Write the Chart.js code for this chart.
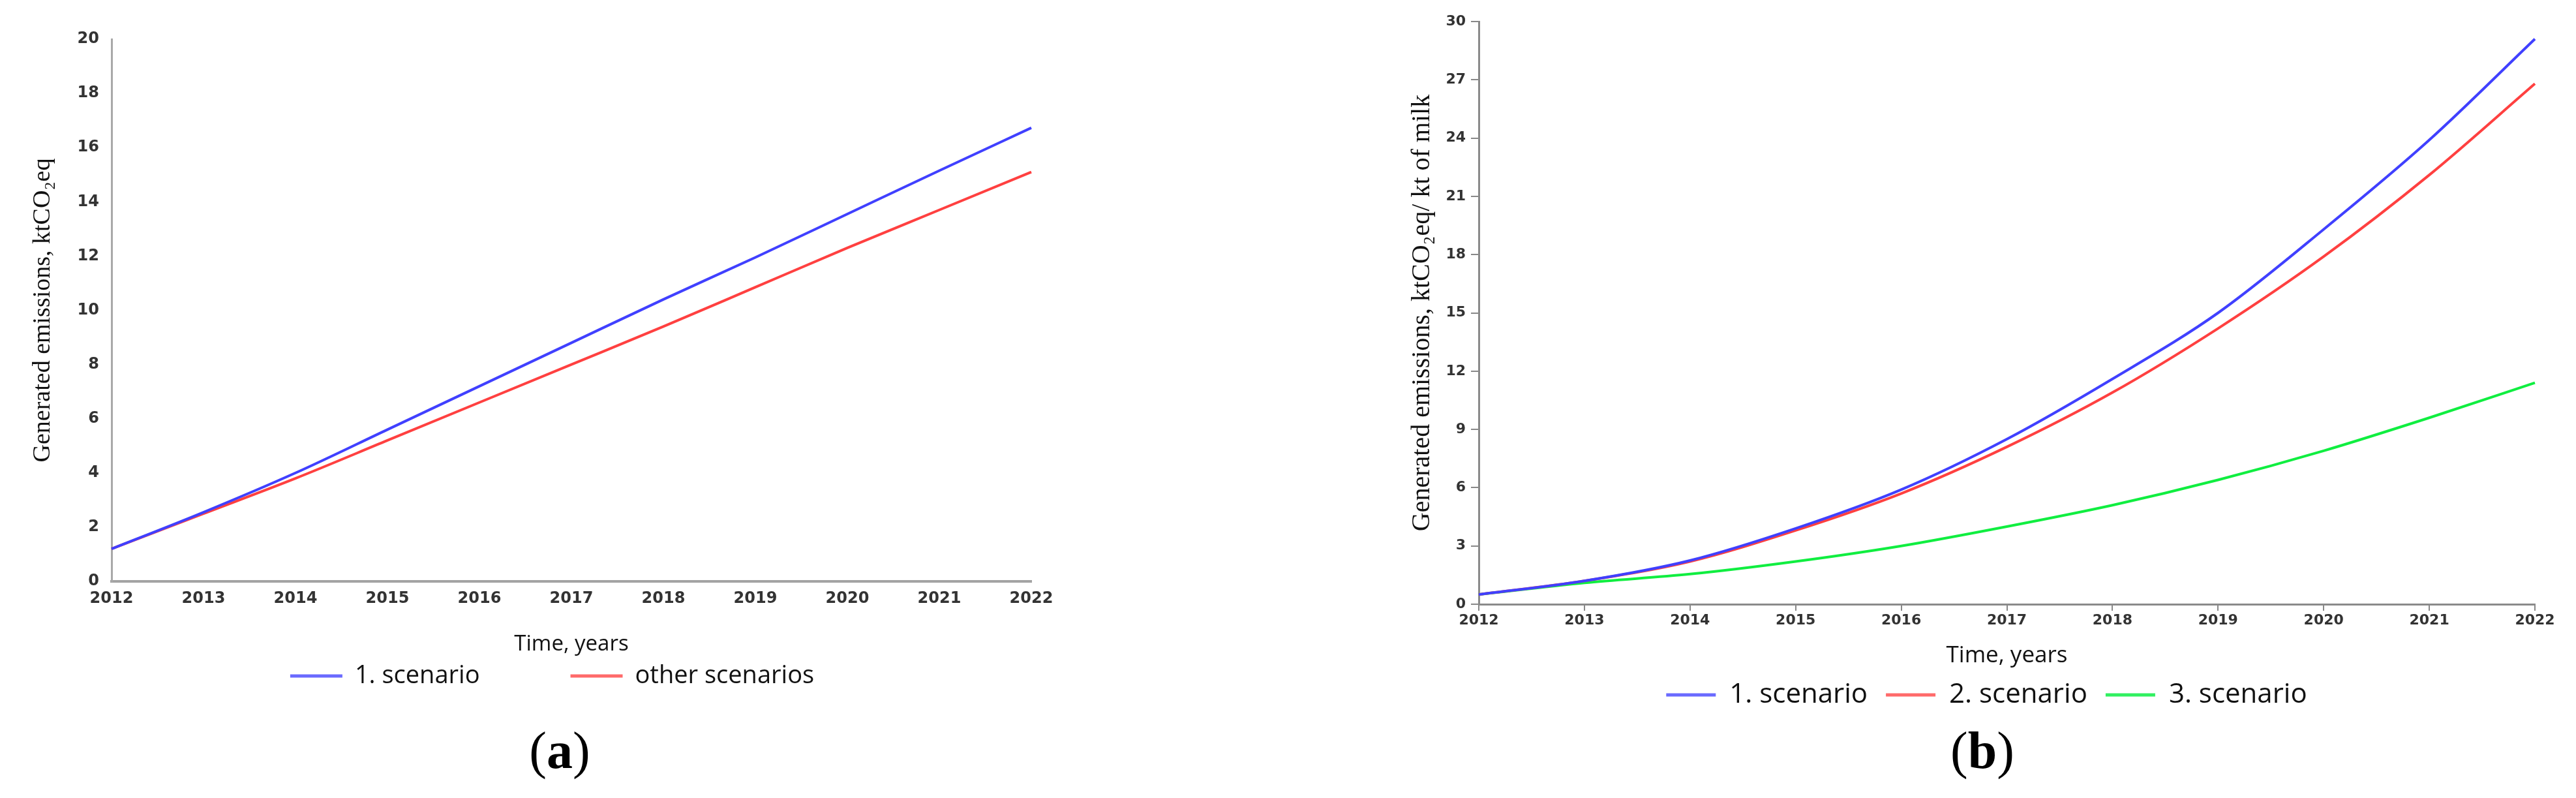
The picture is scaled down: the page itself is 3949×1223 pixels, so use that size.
<!DOCTYPE html>
<html>
<head>
<meta charset="utf-8">
<title>Generated emissions by scenario</title>
<script src="https://cdn.jsdelivr.net/npm/chart.js@4.4.1/dist/chart.umd.min.js"></script>
<style>
  html, body { margin: 0; padding: 0; background: #fff; }
  body { position: relative; width: 3949px; height: 1223px; overflow: hidden; }
  canvas { position: absolute; top: 0; }
  #chartA { left: 0; }
  #chartB { left: 2100px; }
  .caption {
    position: absolute; top: 1110px;
    font-family: "Liberation Serif", "Times New Roman", serif;
    font-size: 80px; line-height: 1; color: #000;
    transform: translateX(-50%);
  }
</style>
</head>
<body>
<canvas id="chartA" width="1700" height="1065"></canvas>
<canvas id="chartB" width="1849" height="1096"></canvas>
<div class="caption" style="left:858px">(<b>a</b>)</div>
<div class="caption" style="left:3039px">(<b>b</b>)</div>
<script>
// years on the x axis (both panels)
const years = ["2012", "2013", "2014", "2015", "2016", "2017", "2018", "2019", "2020", "2021", "2022"];

// panel (a): ktCO2eq
const scenario1A = [1.2, 2.55, 4.0, 5.6, 7.2, 8.8, 10.4, 11.95, 13.55, 15.15, 16.73];
const otherScenariosA = [1.2, 2.5, 3.8, 5.2, 6.6, 8.0, 9.4, 10.85, 12.3, 13.7, 15.1];

// panel (b): ktCO2eq / kt of milk
const scenario1B = [0.5, 1.2, 2.25, 3.9, 5.9, 8.5, 11.6, 15.0, 19.3, 23.9, 29.1];
const scenario2B = [0.5, 1.2, 2.2, 3.8, 5.7, 8.1, 10.9, 14.2, 17.9, 22.1, 26.8];
const scenario3B = [0.5, 1.1, 1.55, 2.2, 3.0, 4.0, 5.1, 6.4, 7.9, 9.6, 11.4];

// y axis ranges: min, max, step
const yRangeA = [0, 20, 2];
const yRangeB = [0, 30, 3];

const BLUE = "#4040ff", RED = "#ff4040", GREEN = "#10ee40";
const tickColor = "#333";

function legendLabels(chart) {
  // flat coloured swatch, no outline
  return Chart.defaults.plugins.legend.labels.generateLabels(chart).map(item => {
    item.lineWidth = 0;
    return item;
  });
}

// panel (a) has a wide gap between its two legend entries
function legendLabelsWide(chart) {
  const items = legendLabels(chart);
  const gap = { ...items[0], text: "", fillStyle: "rgba(0,0,0,0)", strokeStyle: "rgba(0,0,0,0)", datasetIndex: undefined };
  return [items[0], gap, ...items.slice(1)];
}

function line(label, data, color, legendColor) {
  return {
    label,
    data,
    borderColor: color,
    backgroundColor: legendColor,
    borderWidth: 4,
    pointRadius: 0,
    fill: false,
    cubicInterpolationMode: "monotone"
  };
}

new Chart(document.getElementById("chartA"), {
  type: "line",
  data: {
    labels: years,
    datasets: [
      line("1. scenario", scenario1A, BLUE, "#6a6aff"),
      line("other scenarios", otherScenariosA, RED, "#ff6a6a")
    ]
  },
  options: {
    responsive: false,
    animation: false,
    layout: { padding: { top: 60, left: 112, right: 119, bottom: 0 } },
    plugins: {
      tooltip: { enabled: false },
      legend: {
        position: "bottom",
        labels: {
          boxWidth: 80, boxHeight: 5, padding: 20, color: "#111",
          font: { family: "Open Sans", size: 38 },
          generateLabels: legendLabelsWide
        }
      }
    },
    scales: {
      x: {
        grid: { display: false, drawTicks: false },
        border: { color: "#a3a3a3", width: 4 },
        ticks: { padding: 12, font: { family: "DejaVu Sans", size: 24, weight: "bold" }, color: tickColor, maxRotation: 0, autoSkip: false },
        title: {
          display: true, text: "Time, years", color: "#111",
          font: { family: "Open Sans", size: 33 },
          padding: { top: 0, bottom: -10 }
        },
        afterFit: s => { s.height = 106; }
      },
      y: {
        min: yRangeA[0], max: yRangeA[1],
        grid: { display: false, drawTicks: false },
        border: { color: "#a8a8a8", width: 3 },
        ticks: { stepSize: yRangeA[2], padding: 19, font: { family: "DejaVu Sans", size: 24, weight: "bold" }, color: tickColor },
        title: {
          display: true, text: "Generated emissions, ktCO\u2082eq", color: "#111",
          font: { family: "Liberation Serif", size: 38 },
          padding: { top: -69, bottom: 0 }
        },
        afterFit: s => { s.width = 59; }
      }
    }
  }
});

new Chart(document.getElementById("chartB"), {
  type: "line",
  data: {
    labels: years,
    datasets: [
      line("1. scenario", scenario1B, BLUE, "#6a6aff"),
      line("2. scenario", scenario2B, RED, "#ff6a6a"),
      line("3. scenario", scenario3B, GREEN, "#30f060")
    ]
  },
  options: {
    responsive: false,
    animation: false,
    layout: { padding: { top: 33, left: 105, right: 63, bottom: 0 } },
    plugins: {
      tooltip: { enabled: false },
      legend: {
        position: "bottom",
        labels: {
          boxWidth: 76, boxHeight: 5, padding: 28, color: "#111",
          font: { family: "Open Sans", size: 42 },
          generateLabels: legendLabels
        }
      }
    },
    scales: {
      x: {
        grid: { display: true, drawOnChartArea: false, drawTicks: true, tickLength: 10, color: "#888", lineWidth: 2 },
        border: { color: "#8a8a8a", width: 3 },
        ticks: { padding: 2, font: { family: "DejaVu Sans", size: 22, weight: "bold" }, color: tickColor, maxRotation: 0, autoSkip: false },
        title: {
          display: true, text: "Time, years", color: "#111",
          font: { family: "Open Sans", size: 35 },
          padding: { top: 0, bottom: -10 }
        },
        afterFit: s => { s.height = 90; }
      },
      y: {
        min: yRangeB[0], max: yRangeB[1],
        grid: { display: true, drawOnChartArea: false, drawTicks: true, tickLength: 12, color: "#888", lineWidth: 2 },
        border: { color: "#8a8a8a", width: 3 },
        ticks: { stepSize: yRangeB[2], padding: 8, font: { family: "DejaVu Sans", size: 22, weight: "bold" }, color: tickColor },
        title: {
          display: true, text: "Generated emissions, ktCO\u2082eq/ kt of milk", color: "#111",
          font: { family: "Liberation Serif", size: 40 },
          padding: { top: -49, bottom: 0 }
        },
        afterFit: s => { s.width = 62; }
      }
    }
  }
});
</script>
</body>
</html>
